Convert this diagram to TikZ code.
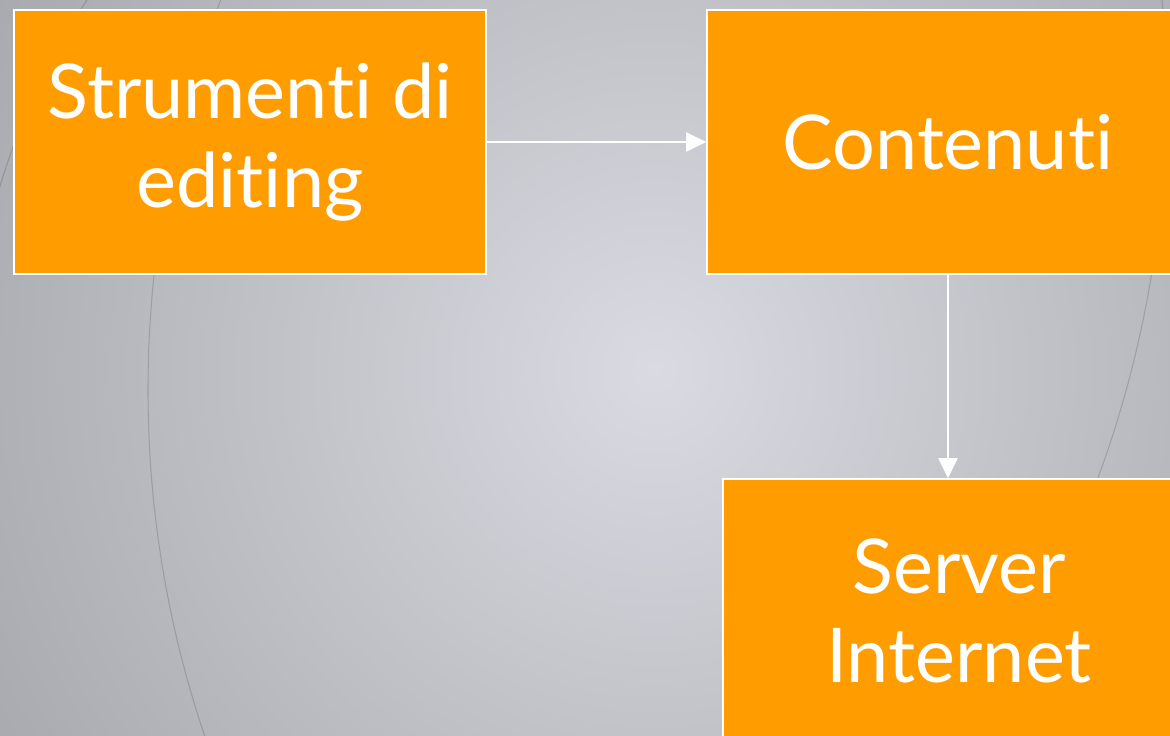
\documentclass[tikz,border=0pt]{standalone}
\usepackage{fontspec}
\setmainfont{Lato}[Ligatures={NoCommon,NoRequired,NoContextual}]
\usepackage{xcolor}
\usetikzlibrary{arrows.meta,positioning,calc}

\definecolor{boxorange}{RGB}{255,156,0}
\definecolor{bgcenter}{RGB}{218,219,226}
\definecolor{bgmid}{RGB}{194,195,201}
\definecolor{bgouter}{RGB}{162,164,169}
\definecolor{bgedge}{RGB}{138,140,144}
\definecolor{bgcorner}{RGB}{122,124,128}
\pgfdeclareradialshading{slidebg}{\pgfpointorigin}{color(0bp)=(bgcenter); color(12bp)=(bgmid); color(28bp)=(bgouter); color(40bp)=(bgedge); color(50bp)=(bgcorner)}

\begin{document}
\begin{tikzpicture}[
    box/.style={draw=white, line width=0.9pt, fill=boxorange, text=white, minimum width=9.44cm, minimum height=5.28cm, align=center, inner sep=0pt, font=\fontsize{43}{51}\selectfont},
    arrow/.style={draw=white, line width=1.1pt, -{Triangle[length=0.4cm, width=0.38cm]}},
    swirl/.style={draw=black, opacity=0.15, line width=0.6pt}
]

% Background
\useasboundingbox (0,0) rectangle (23.4,14.72);
\clip (0,0) rectangle (23.4,14.72);
\shade[shading=slidebg] (13.1,7.32) circle (15.2cm);
\draw[swirl] (24.52,6.92) circle (21.56cm);
\draw[swirl] (1.2,12.82) circle (22.12cm);
\draw[swirl] (14,6.72) ++(146:14.64) arc (146:165:14.64);

% Boxes
\node[box] (tools) at (5.0,11.88) {Strumenti di\\editing};
\node[box, minimum width=9.64cm] (content) at (18.96,11.88) {Contenuti};
\node[box] (server) at (19.18,2.50) {Server\\Internet};

% Arrows
\draw[arrow] (tools) -- (content);
\draw[arrow] (content) -- (content |- server.north);

\end{tikzpicture}
\end{document}
